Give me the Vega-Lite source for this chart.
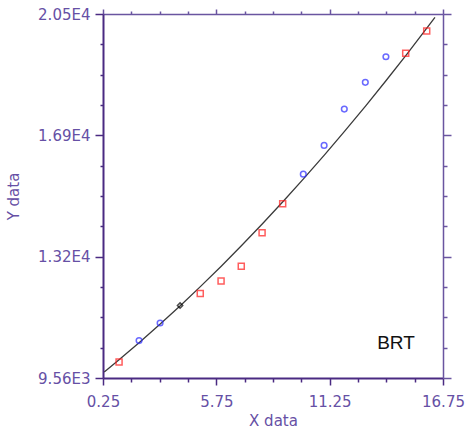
{
  "$schema": "https://vega.github.io/schema/vega-lite/v6.json",
  "width": 340,
  "height": 364,
  "autosize": "none",
  "padding": {"left": 103, "top": 14, "right": 22, "bottom": 58},
  "background": "white",
  "config": {"view": {"stroke": null}},
  "datasets": {
    "curve": [
      {"x": 0.31, "y": 9740}, {"x": 1, "y": 10092}, {"x": 2, "y": 10619}, {"x": 3, "y": 11167},
      {"x": 4, "y": 11733}, {"x": 5, "y": 12321}, {"x": 6, "y": 12928}, {"x": 7, "y": 13556},
      {"x": 8, "y": 14203}, {"x": 9, "y": 14871}, {"x": 10, "y": 15558}, {"x": 11, "y": 16266},
      {"x": 12, "y": 16993}, {"x": 13, "y": 17741}, {"x": 14, "y": 18508}, {"x": 15, "y": 19296},
      {"x": 16, "y": 20104}, {"x": 16.36, "y": 20400}
    ],
    "pts": [
      {"x": 1.03, "y": 10041, "s": "red"},
      {"x": 2.0, "y": 10685, "s": "blue"},
      {"x": 3.02, "y": 11214, "s": "blue"},
      {"x": 3.99, "y": 11738, "s": "black"},
      {"x": 4.97, "y": 12099, "s": "red"},
      {"x": 5.98, "y": 12478, "s": "red"},
      {"x": 6.96, "y": 12920, "s": "red"},
      {"x": 7.97, "y": 13922, "s": "red"},
      {"x": 8.97, "y": 14794, "s": "red"},
      {"x": 9.97, "y": 15687, "s": "blue"},
      {"x": 10.98, "y": 16550, "s": "blue"},
      {"x": 11.96, "y": 17643, "s": "blue"},
      {"x": 12.98, "y": 18446, "s": "blue"},
      {"x": 13.98, "y": 19216, "s": "blue"},
      {"x": 14.94, "y": 19318, "s": "red"},
      {"x": 15.96, "y": 19989, "s": "red"}
    ],
    "lbl": [{"x": 14.47, "y": 10604, "t": "BRT"}]
  },
  "resolve": {"axis": {"x": "independent", "y": "independent"}},
  "layer": [
    {
      "data": {"name": "curve"},
      "mark": {"type": "line", "color": "#3a3a3a", "strokeWidth": 1.3},
      "encoding": {
        "x": {
          "field": "x", "type": "quantitative",
          "scale": {"domain": [0.25, 16.75], "nice": false, "zero": false},
          "axis": {
            "orient": "bottom",
            "values": [0.25, 1.625, 3.0, 4.375, 5.75, 7.125, 8.5, 9.875, 11.25, 12.625, 14.0, 15.375, 16.75],
            "labelExpr": "indexof(['0.25','5.75','11.25','16.75'], format(datum.value,'.2f')) >= 0 ? format(datum.value,'.2f') : ''",
            "tickSize": {"condition": {"test": "indexof([0.25,5.75,11.25,16.75], datum.value) < 0", "value": 4}, "value": 7},
            "grid": false,
            "domainColor": "#4a2a82", "domainWidth": 2,
            "tickColor": "#4a2a82", "tickWidth": 1.5,
            "labelFont": "DejaVu Sans", "labelFontSize": 15, "labelColor": "#6650a5",
            "labelPadding": 9, "labelFlush": false, "labelOverlap": false,
            "title": "X data", "titleFont": "DejaVu Sans", "titleFontSize": 15, "titleFontWeight": "normal",
            "titleColor": "#6650a5", "titleX": 170, "titleY": 42, "titleBaseline": "middle"
          }
        },
        "y": {
          "field": "y", "type": "quantitative",
          "scale": {"domain": [9560, 20500], "nice": false, "zero": false},
          "axis": {
            "orient": "left",
            "values": [9560, 10471.667, 11383.333, 12295, 13206.667, 14118.333, 15030, 15941.667, 16853.333, 17765, 18676.667, 19588.333, 20500],
            "labelExpr": "datum.value==9560?'9.56E3':datum.value==13206.667?'1.32E4':datum.value==16853.333?'1.69E4':datum.value==20500?'2.05E4':''",
            "tickSize": {"condition": {"test": "indexof([9560,13206.667,16853.333,20500], datum.value) < 0", "value": 3}, "value": 8},
            "grid": false,
            "domainColor": "#4a2a82", "domainWidth": 2,
            "tickColor": "#4a2a82", "tickWidth": 1.5,
            "labelFont": "DejaVu Sans", "labelFontSize": 15, "labelColor": "#6650a5",
            "labelPadding": 5, "labelFlush": false, "labelOverlap": false,
            "title": "Y data", "titleFont": "DejaVu Sans", "titleFontSize": 15, "titleFontWeight": "normal",
            "titleColor": "#6650a5", "titleX": -90, "titleY": 182, "titleAngle": -90, "titleBaseline": "middle", "titleAlign": "center"
          }
        }
      }
    },
    {
      "data": {"name": "pts"},
      "mark": {"type": "point", "filled": false, "strokeWidth": 1.5},
      "encoding": {
        "x": {
          "field": "x", "type": "quantitative",
          "axis": {
            "orient": "top",
            "values": [0.25, 1.625, 3.0, 4.375, 5.75, 7.125, 8.5, 9.875, 11.25, 12.625, 14.0, 15.375, 16.75],
            "labels": false, "title": null, "grid": false,
            "tickSize": {"condition": {"test": "indexof([0.25,5.75,11.25,16.75], datum.value) >= 0", "value": 5}, "value": 3},
            "domainColor": "#6a55a0", "domainWidth": 1.5, "tickColor": "#6a55a0", "tickWidth": 1.5
          }
        },
        "y": {
          "field": "y", "type": "quantitative",
          "axis": {
            "orient": "right",
            "values": [9560, 10471.667, 11383.333, 12295, 13206.667, 14118.333, 15030, 15941.667, 16853.333, 17765, 18676.667, 19588.333, 20500],
            "labels": false, "title": null, "grid": false,
            "tickSize": {"condition": {"test": "indexof([9560,13206.667,16853.333,20500], datum.value) >= 0", "value": 8}, "value": 4},
            "domainColor": "#6a55a0", "domainWidth": 1.5, "tickColor": "#6a55a0", "tickWidth": 1.5
          }
        },
        "color": {
          "field": "s", "type": "nominal",
          "scale": {"domain": ["red", "blue", "black"], "range": ["#ff1a1a", "#2a2aff", "#000000"]},
          "legend": null
        },
        "shape": {
          "field": "s", "type": "nominal",
          "scale": {"domain": ["red", "blue", "black"], "range": ["square", "circle", "diamond"]},
          "legend": null
        },
        "size": {
          "field": "s", "type": "nominal",
          "scale": {"domain": ["red", "blue", "black"], "range": [36, 28, 10]},
          "legend": null
        }
      }
    },
    {
      "data": {"name": "lbl"},
      "mark": {"type": "text", "font": "Liberation Sans", "fontSize": 19, "color": "#111111", "align": "center", "baseline": "middle"},
      "encoding": {
        "x": {"field": "x", "type": "quantitative", "axis": null},
        "y": {"field": "y", "type": "quantitative", "axis": null},
        "text": {"field": "t"}
      }
    }
  ]
}
